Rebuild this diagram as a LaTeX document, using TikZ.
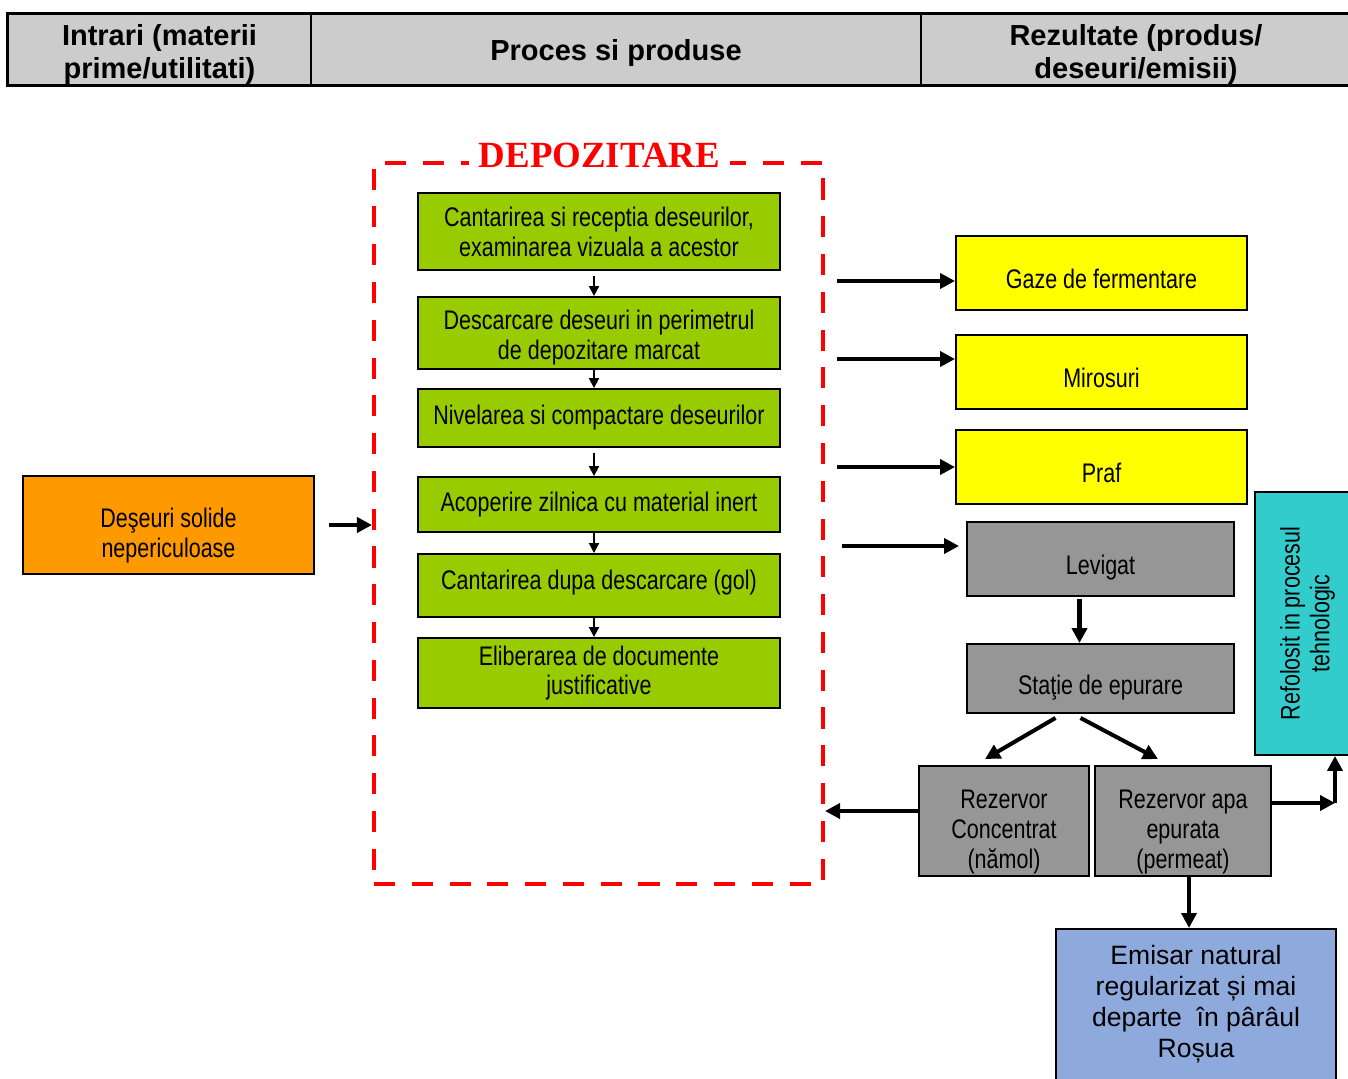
\documentclass[tikz,border=0pt]{standalone}
\usepackage{fontspec}
\setmainfont{Liberation Sans}
\newfontfamily\narrowfont{Liberation Sans}[FakeStretch=0.8]
\newfontfamily\titlefont{Liberation Serif}
\usetikzlibrary{arrows.meta,positioning,calc}
\definecolor{hdrgray}{HTML}{CCCCCC}
\definecolor{boxgreen}{HTML}{99CC00}
\definecolor{boxorange}{HTML}{FF9900}
\definecolor{boxyellow}{HTML}{FFFF00}
\definecolor{boxgray}{HTML}{969696}
\definecolor{boxcyan}{HTML}{33CCCC}
\definecolor{boxblue}{HTML}{8EA9DB}

\begin{document}
\begin{tikzpicture}[>={Triangle[length=0.3cm,width=0.3cm]}]
			\tikzstyle{hdr}=[draw=black,line width=0.8pt,fill=hdrgray,minimum height=1.42cm,inner sep=0pt,align=center,font=\bfseries\fontsize{16.5}{18.7}\selectfont]
			\tikzstyle{box}=[draw=black,line width=1.1pt,inner sep=0pt,align=center,font=\narrowfont\fontsize{15.3}{17}\selectfont]
			\tikzstyle{greenbox}=[box,fill=boxgreen,minimum width=7.24cm]
			\tikzstyle{yellowbox}=[box,fill=boxyellow,minimum width=5.82cm,minimum height=1.48cm,text height=17.8pt,text depth=0pt]
			\tikzstyle{graybox}=[box,fill=boxgray]
			\tikzstyle{bigarrow}=[->,line width=2.3pt]
			\tikzstyle{smallarrow}=[-{Triangle[length=0.2cm,width=0.2cm]},line width=1.1pt]
			\useasboundingbox (0,0) rectangle (26.96,-21.56);
			% header
			\node[hdr, minimum width=6.06cm, text height=33pt, text depth=0pt] (h1) at (3.19,-0.99)  {Intrari (materii\\prime/utilitati)};
			\node[hdr, minimum width=12.2cm, text height=12pt, text depth=0pt]  (h2) at (12.32,-0.99) {Proces si produse};
			\node[hdr, minimum width=8.6cm, text height=33pt, text depth=0pt]   (h3) at (22.72,-0.99) {Rezultate (produs/\\deseuri/emisii)};
			\draw[line width=2pt] (h1.north west) rectangle (h3.south east);
			% depozitare
			\node[draw=red,line width=2.3pt,dash pattern=on 12pt off 9.5pt,minimum width=8.98cm,minimum height=14.42cm] (dep) at (11.97,-10.47) {};
			\node[anchor=base,fill=white,inner xsep=0.2cm,inner ysep=0.05cm,text=red,font=\titlefont\bfseries\fontsize{21}{24}\selectfont] (tt) at (11.99,-3.34) {DEPOZITARE};
			\node[greenbox, minimum height=1.54cm] (g1) at (11.98,-4.63) {Cantarirea si receptia deseurilor,\\examinarea vizuala a acestor};
			\node[greenbox, minimum height=1.44cm, text height=30.4pt, text depth=0pt] (g2)[below of=g1, node distance=2.03cm] {Descarcare deseuri in perimetrul\\de depozitare marcat};
			\node[greenbox, minimum height=1.16cm] (g3)[below of=g2, node distance=1.7cm]  {Nivelarea si compactare deseurilor};
			\node[greenbox, minimum height=1.1cm]  (g4)[below of=g3, node distance=1.73cm] {Acoperire zilnica cu material inert};
			\node[greenbox, minimum height=1.26cm, text height=4.4pt, text depth=0pt] (g5)[below of=g4, node distance=1.62cm] {Cantarirea dupa descarcare (gol)};
			\node[greenbox, minimum height=1.4cm]  (g6)[below of=g5, node distance=1.75cm] {Eliberarea de documente\\justificative};
			% intrari
			\node[box, fill=boxorange, minimum width=5.82cm, minimum height=1.96cm, text height=37.2pt, text depth=0pt] (in) at (3.37,-10.5) {Deşeuri solide\\nepericuloase};
			% rezultate
			\node[yellowbox] (gz) at (22.03,-5.46) {Gaze de fermentare};
			\node[yellowbox] (mr)[below of=gz, node distance=1.98cm] {Mirosuri};
			\node[yellowbox] (pr)[below of=mr, node distance=1.9cm]  {Praf};
			\node[graybox, minimum width=5.34cm, minimum height=1.48cm, text height=18pt, text depth=0pt] (lv) at (22.01,-11.18) {Levigat};
			\node[graybox, minimum width=5.34cm, minimum height=1.38cm, text height=18pt, text depth=0pt] (st)[below of=lv, node distance=2.39cm] {Staţie de epurare};
			\node[graybox, minimum width=3.4cm, minimum height=2.2cm, text height=54.2pt, text depth=0pt]   (rc) at (20.08,-16.42) {Rezervor\\Concentrat\\(nămol)};
			\node[graybox, minimum width=3.52cm, minimum height=2.2cm, text height=54.2pt, text depth=0pt]  (ra)[right of=rc, node distance=3.58cm] {Rezervor apa\\epurata\\(permeat)};
			\node[box, fill=boxcyan, rotate=90, minimum width=5.26cm, minimum height=2.1cm] (rf) at (26.15,-12.47) {Refolosit in procesul\\tehnologic};
			\node[box, fill=boxblue, anchor=north, minimum width=5.6cm, minimum height=3.2cm, text height=55pt, text depth=0pt, font=\fontsize{15.1}{17.6}\selectfont] (em) at (23.92,-18.56) {Emisar natural\\regularizat și mai\\departe\ \ în pârâul\\Roșua};
			\coordinate (turn) at (26.7,-16.06);
			% arrows
			\path[smallarrow]
			([xshift=-1mm,yshift=-1mm]g1.south) edge ([xshift=-1mm]g2.north)
			([xshift=-1mm]g2.south) edge ([xshift=-1mm]g3.north)
			([xshift=-1mm,yshift=-1mm]g3.south) edge ([xshift=-1mm]g4.north)
			([xshift=-1mm]g4.south) edge ([xshift=-1mm]g5.north)
			([xshift=-1mm]g5.south) edge ([xshift=-1mm]g6.north);
			\draw[bigarrow] ($(in.east)+(0.28,0)$) -- (in.east -| dep.west);
			\draw[bigarrow] ($(dep.east |- gz.west)+(0.24,-0.16)$) -- ($(gz.west)+(0,-0.16)$);
			\draw[bigarrow] ($(dep.east |- mr.west)+(0.24,0.26)$) -- ($(mr.west)+(0,0.26)$);
			\draw[bigarrow] ($(dep.east |- pr.west)+(0.24,0)$) -- (pr.west);
			\draw[bigarrow] ($(dep.east |- lv.west)+(0.34,0.26)$) -- ($(lv.west)+(-0.14,0.26)$);
			\draw[bigarrow] ($(lv.south)+(-0.42,-0.04)$) -- ($(st.north)+(-0.42,0)$);
			\draw[bigarrow] ($(st.south)+(-0.9,-0.08)$) -- ($(rc.north)+(-0.38,0.12)$);
			\draw[bigarrow] ($(st.south)+(-0.4,-0.08)$) -- ($(ra.north)+(-0.5,0.12)$);
			\draw[bigarrow] ($(rc.west)+(0,0.2)$) -- ($(rc.west -| dep.east)+(0,0.2)$);
			\draw[bigarrow] ($(ra.east)+(0,0.36)$) -- (turn);
			\draw[bigarrow] (turn) -- (turn |- rf.west);
			\draw[bigarrow] ($(ra.south)+(0.12,0)$) -- ($(ra.south |- em.north)+(0.12,0)$);
		\end{tikzpicture}
\end{document}
